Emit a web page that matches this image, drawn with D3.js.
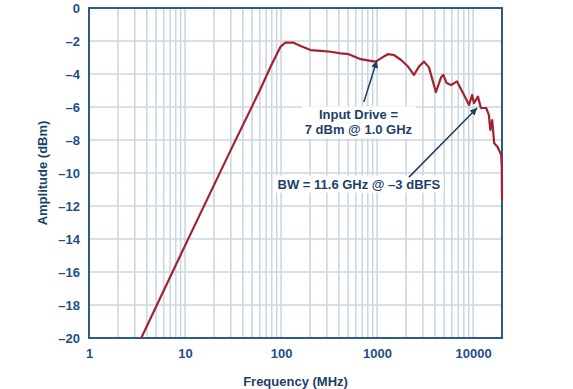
<!DOCTYPE html>
<html>
<head>
<meta charset="utf-8">
<script src="https://cdn.jsdelivr.net/npm/d3@7"></script>
<style>
  body { margin: 0; background: #fff; }
  text { font-family: "Liberation Sans", Arial, sans-serif; font-weight: bold; }
</style>
</head>
<body>
<div id="chart"></div>
<script>
// Data (frequency in MHz, amplitude in dBm)
var freqs = [3.5, 10, 30, 60, 78, 99, 111, 135, 160, 203, 259, 328, 418, 506, 676, 855, 970,
  1094, 1290, 1497, 1780, 2100, 2420, 2730, 3080, 3470, 4100, 4640, 4900, 5300, 5900, 6800,
  8050, 9080, 9770, 10200, 11240, 12050, 13680, 14600, 15100, 15800, 16600, 18000, 19600, 19900, 20000]
var amps = [-20, -14.4, -8.6, -5.0, -3.55, -2.34, -2.1, -2.1, -2.3, -2.55, -2.6, -2.65, -2.75, -2.8, -3.1, -3.2, -3.25,
  -3.05, -2.8, -2.85, -3.15, -3.55, -4.06, -3.55, -3.25, -3.6, -5.1, -4.2, -4.05, -4.55, -4.67, -4.45,
  -5.27, -5.88, -5.27, -5.76, -5.37, -6.06, -6.06, -6.48, -7.39, -6.79, -8.2, -8.42, -8.9, -9.6, -11.6]
var xTicks = [1, 10, 100, 1000, 10000]
var yTicks = [0, -2, -4, -6, -8, -10, -12, -14, -16, -18, -20]

// Annotations: [label lines, text anchor (MHz, dBm), arrow start, arrow tip]
var notes = [
  { lines: ['Input Drive =', '7 dBm @ 1.0 GHz'], at: [640, -6.75], from: [728, -5.7], to: [994, -3.2] },
  { lines: ['BW = 11.6 GHz @ \u20133 dBFS'], at: [646, -10.95], from: [2150, -10.25], to: [11000, -6.06] }
]

// Dimensions
var width = 573
var height = 389
var margin = { top: 8, right: 71, bottom: 51, left: 89 }
var chartWidth = width - margin.left - margin.right
var chartHeight = height - margin.top - margin.bottom

var gridColor = '#cbd7e3'
var axisColor = '#2d5b88'
var labelColor = '#1f4f86'
var lineColor = '#a3222f'
var arrowColor = '#1f3d63'

// Scales
var x = d3.scaleLog().domain([1, 20000]).range([0, chartWidth])
var y = d3.scaleLinear().domain([-20, 0]).range([chartHeight, 0])

var svg = d3.select('#chart').append('svg')
  .attr('width', width)
  .attr('height', height)

svg.append('defs').append('marker')
  .attr('id', 'head')
  .attr('viewBox', '0 0 10 10')
  .attr('refX', 10)
  .attr('refY', 5)
  .attr('markerWidth', 10)
  .attr('markerHeight', 7)
  .attr('markerUnits', 'userSpaceOnUse')
  .attr('orient', 'auto')
  .append('path')
  .attr('d', 'M0,0L10,5L0,10Z')
  .attr('fill', arrowColor)

var g = svg.append('g')
  .attr('transform', 'translate(' + margin.left + ',' + margin.top + ')')

// Grid: minor log lines each decade
var vLines = []
for (var k = 0; k < 5; k++) {
  for (var m = 1; m < 10; m++) {
    var v = m * Math.pow(10, k)
    if (v > 1 && v < 20000) vLines.push(v)
  }
}

g.selectAll('.vgrid')
  .data(vLines)
  .enter().append('line')
  .attr('class', 'vgrid')
  .attr('x1', function (d) { return x(d) })
  .attr('x2', function (d) { return x(d) })
  .attr('y1', 0)
  .attr('y2', chartHeight)
  .attr('stroke', gridColor)
  .attr('stroke-width', 1.6)

g.selectAll('.hgrid')
  .data(yTicks.slice(1, -1))
  .enter().append('line')
  .attr('class', 'hgrid')
  .attr('x1', 0)
  .attr('x2', chartWidth)
  .attr('y1', function (d) { return y(d) })
  .attr('y2', function (d) { return y(d) })
  .attr('stroke', gridColor)
  .attr('stroke-width', 1.6)

// Frame (drawn under the curve, which runs over the right edge)
g.append('rect')
  .attr('width', chartWidth)
  .attr('height', chartHeight)
  .attr('fill', 'none')
  .attr('stroke', axisColor)
  .attr('stroke-width', 2)

// Response curve
var line = d3.line()
  .x(function (d) { return x(d[0]) })
  .y(function (d) { return y(d[1]) })

g.append('path')
  .datum(d3.zip(freqs, amps))
  .attr('d', line)
  .attr('fill', 'none')
  .attr('stroke', lineColor)
  .attr('stroke-width', 2.2)
  .attr('stroke-linejoin', 'round')

// Annotations
notes.forEach(function (n) {
  var t = g.append('text')
    .attr('text-anchor', 'middle')
    .attr('font-size', 13)
    .attr('fill', '#1d3f6a')
  n.lines.forEach(function (s, i) {
    t.append('tspan')
      .attr('x', x(n.at[0]))
      .attr('y', y(n.at[1]) + i * 15)
      .text(s)
  })
  var bb = t.node().getBBox()
  g.insert('rect', 'text')
    .attr('x', bb.x - 3)
    .attr('y', bb.y - 1)
    .attr('width', bb.width + 6)
    .attr('height', bb.height + 2)
    .attr('fill', '#fff')
  g.append('line')
    .attr('x1', x(n.from[0]))
    .attr('y1', y(n.from[1]))
    .attr('x2', x(n.to[0]))
    .attr('y2', y(n.to[1]))
    .attr('stroke', arrowColor)
    .attr('stroke-width', 1.5)
    .attr('marker-end', 'url(#head)')
})

// Axes
var xAxis = g.append('g')
  .attr('transform', 'translate(0,' + chartHeight + ')')
  .call(d3.axisBottom(x).tickValues(xTicks).tickSize(0).tickPadding(10.5)
    .tickFormat(function (d) { return d }))
var yAxis = g.append('g')
  .call(d3.axisLeft(y).tickValues(yTicks).tickSize(0).tickPadding(9)
    .tickFormat(function (d) { return d < 0 ? '\u2013' + (-d) : d }))

;[xAxis, yAxis].forEach(function (a) {
  a.select('.domain').remove()
  a.selectAll('text')
    .attr('font-family', '"Liberation Sans", Arial, sans-serif')
    .attr('font-size', 13)
    .attr('font-weight', 'bold')
    .attr('fill', labelColor)
})

// Axis titles
svg.append('text')
  .attr('x', margin.left + chartWidth / 2)
  .attr('y', 386)
  .attr('text-anchor', 'middle')
  .attr('font-size', 13)
  .attr('fill', '#1d3f6a')
  .text('Frequency (MHz)')

svg.append('text')
  .attr('transform', 'translate(47,' + (margin.top + chartHeight / 2) + ') rotate(-90)')
  .attr('text-anchor', 'middle')
  .attr('font-size', 13)
  .attr('fill', '#1d3f6a')
  .text('Amplitude (dBm)')
</script>
</body>
</html>
